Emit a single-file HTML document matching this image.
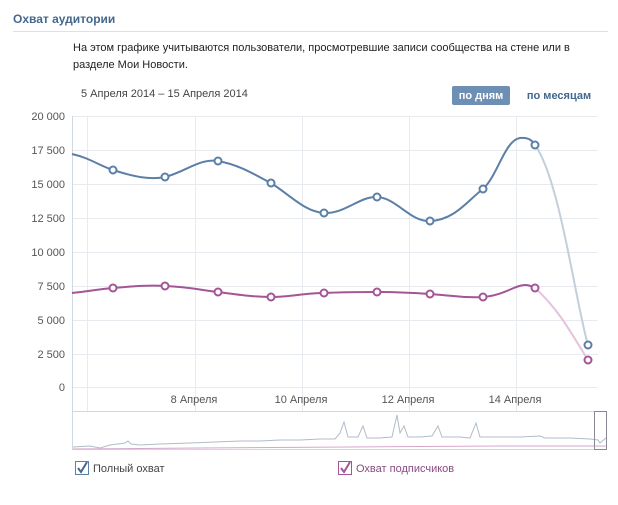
<!DOCTYPE html>
<html><head><meta charset="utf-8"><style>
body{margin:0;background:#fff;font-family:"Liberation Sans","DejaVu Sans",sans-serif;}
</style></head><body>
<svg width="618" height="500" xmlns="http://www.w3.org/2000/svg" font-family="Liberation Sans, DejaVu Sans, sans-serif">
<text x="13" y="23" font-size="12" font-weight="bold" fill="#45688e">Охват аудитории</text>
<line x1="13" y1="31.5" x2="608" y2="31.5" stroke="#dae1e8"/>
<text x="73" y="51" font-size="11" fill="#222">На этом графике учитываются пользователи, просмотревшие записи сообщества на стене или в</text>
<text x="73" y="68" font-size="11" fill="#222">разделе Мои Новости.</text>
<text x="81" y="97" font-size="11" fill="#444">5 Апреля 2014 – 15 Апреля 2014</text>
<rect x="452" y="86" width="58" height="19" rx="2" fill="#6d8fb3"/>
<text x="481" y="99" font-size="11" font-weight="bold" fill="#fff" text-anchor="middle">по дням</text>
<text x="559" y="99" font-size="11" font-weight="bold" fill="#45688e" text-anchor="middle">по месяцам</text>
<g stroke="#e7ebf0">
<line x1="72" y1="116.5" x2="598" y2="116.5"/><line x1="72" y1="150.5" x2="598" y2="150.5"/><line x1="72" y1="184.5" x2="598" y2="184.5"/><line x1="72" y1="218.5" x2="598" y2="218.5"/><line x1="72" y1="252.5" x2="598" y2="252.5"/><line x1="72" y1="286.5" x2="598" y2="286.5"/><line x1="72" y1="320.5" x2="598" y2="320.5"/><line x1="72" y1="354.5" x2="598" y2="354.5"/><line x1="72" y1="387.5" x2="598" y2="387.5"/>
<line x1="87.5" y1="116" x2="87.5" y2="411"/><line x1="195.5" y1="116" x2="195.5" y2="411"/><line x1="302.5" y1="116" x2="302.5" y2="411"/><line x1="409.5" y1="116" x2="409.5" y2="411"/><line x1="516.5" y1="116" x2="516.5" y2="411"/>
</g>
<line x1="72.5" y1="116" x2="72.5" y2="450" stroke="#d0d8e0"/>
<g font-size="11" fill="#555" text-anchor="end">
<text x="65" y="120">20 000</text><text x="65" y="154">17 500</text><text x="65" y="188">15 000</text><text x="65" y="222">12 500</text><text x="65" y="256">10 000</text><text x="65" y="290">7 500</text><text x="65" y="324">5 000</text><text x="65" y="358">2 500</text><text x="65" y="391">0</text>
</g>
<g font-size="11" fill="#555" text-anchor="middle">
<text x="194" y="403">8 Апреля</text><text x="301" y="403">10 Апреля</text><text x="408" y="403">12 Апреля</text><text x="515" y="403">14 Апреля</text>
</g>
<path d="M72,154 C90,158 100,166 113,170 C135,177 150,180 165,177 C185,172 200,158 218,161 C240,165 255,175 271,183 C290,195 305,212 324,213 C345,214 360,196 377,197 C397,198 410,222 430,221 C455,220 468,200 483,189 C498,175 505,140 520,138 C530,137 533,142 535,145" fill="none" stroke="#5b7fa6" stroke-width="2"/>
<path d="M535,145 C560,180 575,300 588,345" fill="none" stroke="#c4cfdc" stroke-width="2"/>
<path d="M72,293 C90,291 100,289 113,288 C135,286 150,285 165,286 C190,287 200,290 218,292 C240,295 255,297 271,297 C290,297 305,293 324,293 C345,292 360,292 377,292 C400,292 415,293 430,294 C455,296 468,298 483,297 C505,295 515,285 525,285 C530,285 533,287 535,288" fill="none" stroke="#a35596" stroke-width="2"/>
<path d="M535,288 C560,310 575,340 588,360" fill="none" stroke="#e4c3dd" stroke-width="2"/>
<g fill="#fff" stroke="#5b7fa6" stroke-width="2">
<circle cx="113" cy="170" r="3.5"/><circle cx="165" cy="177" r="3.5"/><circle cx="218" cy="161" r="3.5"/><circle cx="271" cy="183" r="3.5"/><circle cx="324" cy="213" r="3.5"/><circle cx="377" cy="197" r="3.5"/><circle cx="430" cy="221" r="3.5"/><circle cx="483" cy="189" r="3.5"/><circle cx="535" cy="145" r="3.5"/><circle cx="588" cy="345" r="3.5"/>
</g>
<g fill="#fff" stroke="#a35596" stroke-width="2">
<circle cx="113" cy="288" r="3.5"/><circle cx="165" cy="286" r="3.5"/><circle cx="218" cy="292" r="3.5"/><circle cx="271" cy="297" r="3.5"/><circle cx="324" cy="293" r="3.5"/><circle cx="377" cy="292" r="3.5"/><circle cx="430" cy="294" r="3.5"/><circle cx="483" cy="297" r="3.5"/><circle cx="535" cy="288" r="3.5"/><circle cx="588" cy="360" r="3.5"/>
</g>
<rect x="72.5" y="411.5" width="534" height="38" fill="none" stroke="#d0d8e0"/>
<polyline fill="none" stroke="#b0bcc8" stroke-width="1" points="73,447 90,446 100,448 110,445 125,443 128,441 131,444 140,445 160,444 190,443 215,442 240,441 260,441 280,440 300,440 320,439 335,439 340,433 344,422 348,437 358,437 363,426 367,438 380,438 392,437 397,415 400,433 404,426 408,437 420,437 432,436 438,426 442,437 460,437 470,438 476,423 480,437 500,437 520,437 540,436 545,438 570,438 590,439 598,440 600,443 606,438"/>
<polyline fill="none" stroke="#d6a6cc" stroke-width="1" points="73,449 200,448 350,447 500,446 606,446"/>
<rect x="594.5" y="411.5" width="12" height="38" fill="none" stroke="#889"/>
<rect x="75.5" y="461.5" width="13" height="13" fill="#fff" stroke="#5b7fa6"/>
<path d="M78,468 L81,472 L87,462" fill="none" stroke="#45688e" stroke-width="2"/>
<text x="93" y="472" font-size="11" fill="#444">Полный охват</text>
<rect x="338.5" y="461.5" width="13" height="13" fill="#fff" stroke="#a35596"/>
<path d="M341,468 L344,472 L350,462" fill="none" stroke="#a35596" stroke-width="2"/>
<text x="356" y="472" font-size="11" fill="#8b4a80">Охват подписчиков</text>
</svg>
</body></html>
